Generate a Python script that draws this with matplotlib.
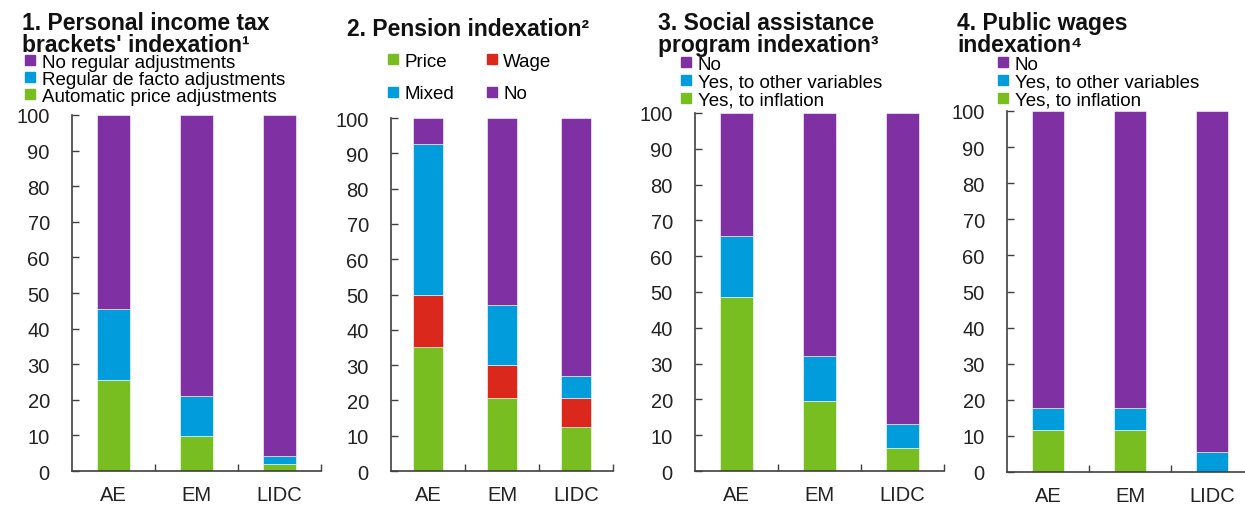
import matplotlib
matplotlib.use('Agg')
import matplotlib.pyplot as plt
from matplotlib.patches import Patch

plt.rcParams['font.family'] = ['Liberation Sans', 'DejaVu Sans']

categorias = ['AE', 'EM', 'LIDC']

# 1. Personal income tax brackets
imp_auto = [25.6, 9.7, 2.1]
imp_regular = [20.0, 11.3, 2.0]
imp_nao = [54.4, 79.0, 95.9]

# 2. Pension
pen_preco = [35.0, 20.8, 12.4]
pen_salario = [15.0, 9.1, 8.3]
pen_misto = [42.6, 17.2, 6.3]
pen_nao = [7.4, 52.9, 73.0]

# 3. Social assistance
soc_inflacao = [48.5, 19.6, 6.5]
soc_outras = [17.2, 12.6, 6.7]
soc_nao = [34.3, 67.8, 86.8]

# 4. Public wages
sal_inflacao = [11.6, 11.6, 0.0]
sal_outras = [6.0, 6.0, 5.6]
sal_nao = [82.4, 82.4, 94.4]

roxo = '#7F30A3'
azul = '#009CDC'
verde = '#78BE21'
vermelho = '#DA291C'

W, H = 1245, 506
fig = plt.figure(figsize=(W / 100, H / 100), dpi=100)


def eixo(esq, dir_, topo, base):
    return fig.add_axes([esq / W, 1 - base / H, (dir_ - esq) / W, (base - topo) / H])


def empilhar(ax, series, cores):
    x = range(len(categorias))
    fundo = [0] * len(categorias)
    for vals, cor in zip(series, cores):
        ax.bar(x, vals, bottom=fundo, width=0.4, color=cor, edgecolor='white', linewidth=0.4)
        fundo = [a + b for a, b in zip(fundo, vals)]
    ax.set_xlim(-0.5, 2.5)
    ax.set_ylim(0, 100)
    ax.set_yticks(range(0, 101, 10))
    ax.set_xticks(x)
    ax.set_xticklabels(categorias)
    ax.set_xticks([0.5, 1.5, 2.5], minor=True)
    for s in ['top', 'right']:
        ax.spines[s].set_visible(False)
    for s in ['left', 'bottom']:
        ax.spines[s].set_color('#404040')
        ax.spines[s].set_linewidth(1.2)
    ax.tick_params(axis='y', direction='in', length=5, width=1, color='#404040',
                   labelsize=14.5, pad=16, labelcolor='#222222')
    ax.tick_params(axis='x', which='major', length=0, labelsize=14.5, pad=10, labelcolor='#222222')
    ax.tick_params(axis='x', which='minor', direction='in', length=5, width=1, color='#404040')


def legenda(handles, x, y, ncol=1, espaco=0.0, colesp=1.0):
    fig.legend(handles=handles, loc='upper left', bbox_to_anchor=(x / W, 1 - y / H),
               bbox_transform=fig.transFigure, frameon=False, fontsize=13.5, ncol=ncol,
               borderpad=0, borderaxespad=0, handlelength=0.55, handleheight=0.45,
               handletextpad=0.35, labelspacing=espaco, columnspacing=colesp)


def titulo(texto, x, y0):
    # y0 = linha de base da ultima linha
    fig.text(x / W, 1 - y0 / H, texto, fontsize=16.5, fontweight='bold',
             ha='left', va='baseline', linespacing=0.94, color='#111111')


# Painel 1
ax1 = eixo(72, 321, 116, 472)
empilhar(ax1, [imp_auto, imp_regular, imp_nao], [verde, azul, roxo])
titulo("1. Personal income tax\nbrackets' indexation¹", 22, 52)
legenda([Patch(color=roxo, label='No regular adjustments'),
         Patch(color=azul, label='Regular de facto adjustments'),
         Patch(color=verde, label='Automatic price adjustments')], 25, 55)

# Painel 2
ax2 = eixo(391, 613, 119, 472)
empilhar(ax2, [pen_preco, pen_salario, pen_misto, pen_nao], [verde, vermelho, azul, roxo])
titulo('2. Pension indexation²', 347, 36)
legenda([Patch(color=verde, label='Price'), Patch(color=azul, label='Mixed'),
         Patch(color=vermelho, label='Wage'), Patch(color=roxo, label='No')],
        388, 54, ncol=2, espaco=0.82, colesp=1.7)

# Painel 3
ax3 = eixo(695, 944, 114, 472)
empilhar(ax3, [soc_inflacao, soc_outras, soc_nao], [verde, azul, roxo])
titulo('3. Social assistance\nprogram indexation³', 658, 52)
legenda([Patch(color=roxo, label='No'),
         Patch(color=azul, label='Yes, to other variables'),
         Patch(color=verde, label='Yes, to inflation')], 681, 57, espaco=0.05)

# Painel 4
ax4 = eixo(1007, 1253, 112, 473)
empilhar(ax4, [sal_inflacao, sal_outras, sal_nao], [verde, azul, roxo])
titulo('4. Public wages\nindexation⁴', 957, 52)
legenda([Patch(color=roxo, label='No'),
         Patch(color=azul, label='Yes, to other variables'),
         Patch(color=verde, label='Yes, to inflation')], 998, 57, espaco=0.05)

plt.savefig('out.png', dpi=100)
